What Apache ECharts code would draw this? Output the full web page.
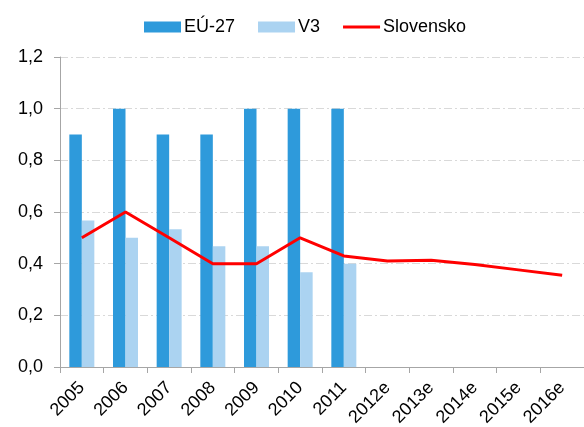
<!DOCTYPE html>
<html>
<head>
	<meta charset="utf-8">
	<script src="https://cdn.jsdelivr.net/npm/echarts@6/dist/echarts.min.js"></script>
	<title>EU-27, V3, Slovensko</title>
	<style>
		html, body { margin: 0; padding: 0; background: #fff; }
	</style>
</head>
<body>
	<div id="main" style="width:584px;height:427px"></div>
	<script type="text/javascript">
		var years = ['2005', '2006', '2007', '2008', '2009', '2010', '2011', '2012e', '2013e', '2014e', '2015e', '2016e']
		var eu27 = [0.9, 1.0, 0.9, 0.9, 1.0, 1.0, 1.0, null, null, null, null, null]
		var v3 = [0.567, 0.5, 0.533, 0.467, 0.467, 0.367, 0.4, null, null, null, null, null]
		var slovensko = [0.5, 0.6, 0.5, 0.4, 0.4, 0.5, 0.43, 0.41, 0.413, 0.397, 0.376, 0.355]

		var fontFam = 'Liberation Sans, Arial, sans-serif'
		var myChart = echarts.init(document.getElementById('main'))

		var option = {
			animation: false,
			legend: {
				top: 13,
				left: 144,
				padding: [5, 0],
				itemWidth: 37,
				itemHeight: 11,
				itemGap: 23,
				textStyle: { fontFamily: fontFam, fontSize: 18, color: '#000', padding: [0, 0, 0, -2] },
				data: [
					{ name: 'EÚ-27', icon: 'rect' },
					{ name: 'V3', icon: 'rect' },
					{ name: 'Slovensko', icon: 'path://M0,4 L37,4 L37,7 L0,7 Z' }
				]
			},
			grid: { left: 60, right: 0, top: 57, bottom: 60, outerBoundsMode: 'none', containLabel: false },
			xAxis: {
				type: 'category',
				data: years,
				axisLine: { lineStyle: { color: '#a6a6a6' } },
				axisTick: { show: true, length: 6, lineStyle: { color: '#a6a6a6' } },
				axisLabel: {
					rotate: 45,
					interval: 0,
					margin: 18,
					fontFamily: fontFam,
					fontSize: 18,
					color: '#000'
				}
			},
			yAxis: {
				type: 'value',
				min: 0,
				max: 1.2,
				interval: 0.2,
				axisLine: { show: true, lineStyle: { color: '#a6a6a6' } },
				axisTick: { show: true, length: 6, lineStyle: { color: '#a6a6a6' } },
				axisLabel: {
					fontFamily: fontFam,
					fontSize: 18,
					color: '#000',
					margin: 17,
					formatter: function (v) { return v.toFixed(1).replace('.', ',') }
				},
				splitLine: { lineStyle: { color: '#d9d9d9', type: [8, 3, 2, 3] } }
			},
			series: [
				{
					name: 'EÚ-27',
					type: 'bar',
					data: eu27,
					barWidth: 12.5,
					barGap: '0%',
					itemStyle: { color: '#2e9adb' }
				},
				{
					name: 'V3',
					type: 'bar',
					data: v3,
					barWidth: 12.5,
					itemStyle: { color: '#abd3f1' }
				},
				{
					name: 'Slovensko',
					type: 'line',
					data: slovensko,
					symbol: 'none',
					lineStyle: { color: '#ff0000', width: 3 },
					itemStyle: { color: '#ff0000' },
					z: 5
				}
			]
		}
		myChart.setOption(option)
	</script>
</body>
</html>
